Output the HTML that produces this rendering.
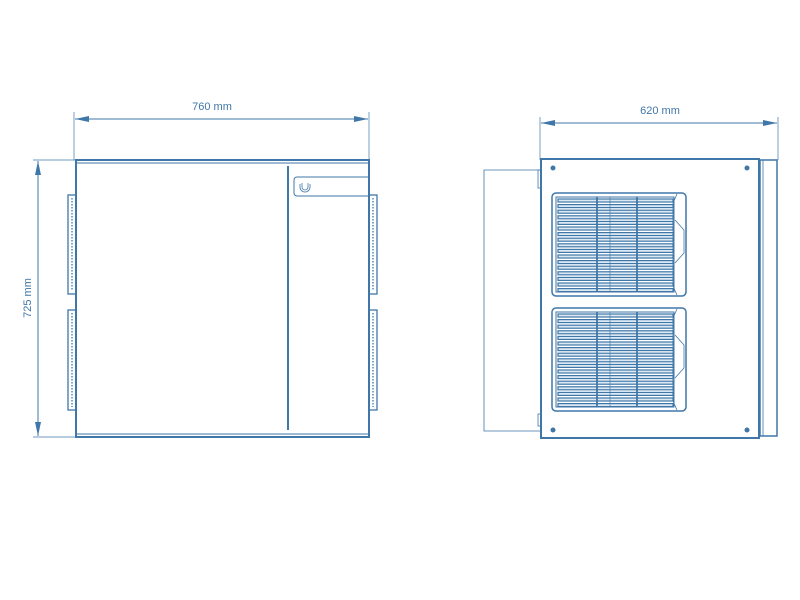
<!DOCTYPE html>
<html><head><meta charset="utf-8"><style>
html,body{margin:0;padding:0;background:#fff;width:800px;height:600px;overflow:hidden}
svg{display:block}
text{font-family:"Liberation Sans",sans-serif;font-size:11px;fill:#3f77a8}
</style></head><body>
<svg id="s" width="800" height="600" viewBox="0 0 800 600" xmlns="http://www.w3.org/2000/svg">
<defs><marker id="a" viewBox="0 0 14 6" refX="14" refY="3" markerWidth="14" markerHeight="6" markerUnits="userSpaceOnUse" orient="auto-start-reverse"><path d="M0,0L14,3L0,6z" fill="#3f77a8"/></marker></defs>
<g stroke="#3f77a8" fill="none">
<line x1="74" y1="112" x2="74" y2="160" stroke-width="0.7"/>
<line x1="369" y1="112" x2="369" y2="160" stroke-width="0.7"/>
<line x1="75" y1="119" x2="368" y2="119" stroke-width="1" marker-start="url(#a)" marker-end="url(#a)"/>
<line x1="33" y1="160" x2="76" y2="160" stroke-width="0.7"/>
<line x1="33" y1="437" x2="76" y2="437" stroke-width="0.7"/>
<line x1="38" y1="161" x2="38" y2="436" stroke-width="1" marker-start="url(#a)" marker-end="url(#a)"/>
<rect x="76" y="160" width="293" height="277" stroke-width="2"/>
<line x1="76" y1="163" x2="369" y2="163" stroke-width="1"/>
<line x1="76" y1="434" x2="369" y2="434" stroke-width="1"/>
<line x1="288" y1="166" x2="288" y2="430" stroke-width="2"/>
<path d="M369,177H297a3,3 0 0 0 -3,3V193a3,3 0 0 0 3,3H369" stroke-width="1"/>
<path d="M302,183v4a3,3 0 0 0 6,0v-4M300,184v3a5,5 0 0 0 10,0v-3" stroke-width="0.8"/>
<g stroke-width="1.3">
<rect x="68" y="195" width="8" height="99"/><line x1="72" y1="198" x2="72" y2="291" stroke-dasharray="1.5 1.5"/>
<rect x="68" y="310" width="8" height="100"/><line x1="72" y1="313" x2="72" y2="407" stroke-dasharray="1.5 1.5"/>
<rect x="369" y="195" width="8" height="99"/><line x1="373" y1="198" x2="373" y2="291" stroke-dasharray="1.5 1.5"/>
<rect x="369" y="310" width="8" height="100"/><line x1="373" y1="313" x2="373" y2="407" stroke-dasharray="1.5 1.5"/>
</g>
<line x1="540" y1="117" x2="540" y2="160" stroke-width="0.7"/>
<line x1="778" y1="117" x2="778" y2="160" stroke-width="0.7"/>
<line x1="541" y1="123" x2="777" y2="123" stroke-width="1" marker-start="url(#a)" marker-end="url(#a)"/>
<path d="M541,170H484V431H541" stroke-width="0.8"/>
<rect x="541" y="159" width="218" height="279" stroke-width="2"/>
<rect x="760" y="160" width="17" height="276" stroke-width="1.5"/>
<line x1="763" y1="160" x2="763" y2="436" stroke-width="0.8"/>
<rect x="538" y="170" width="3" height="18" stroke-width="0.8"/>
<rect x="538" y="414" width="3" height="12" stroke-width="0.8"/>
</g>
<g fill="#3f77a8">
<circle cx="553" cy="168" r="2.5"/><circle cx="747" cy="168" r="2.5"/>
<circle cx="553" cy="430" r="2.5"/><circle cx="747" cy="430" r="2.5"/>
</g>
<g id="grilles" stroke="#3f77a8" fill="none"></g>
<text x="212" y="110" text-anchor="middle">760 mm</text>
<text x="660" y="114" text-anchor="middle">620 mm</text>
<text x="0" y="0" text-anchor="middle" transform="translate(31,298) rotate(-90)">725 mm</text>
</svg>
<script>
var g=document.getElementById('grilles'),h='';
[193,308].forEach(function(y){
h+='<rect x="552" y="'+y+'" width="134" height="103" rx="4" stroke-width="1.5"/>';
h+='<path d="M677,'+(y+1)+'L673,'+(y+10)+'V'+(y+93)+'L677,'+(y+102)+'" stroke-width="0.8"/>';
h+='<path d="M675,'+(y+27)+'L684,'+(y+37)+'V'+(y+60)+'L675,'+(y+70)+'" stroke-width="0.8"/>';
h+='<rect x="556" y="'+(y+4)+'" width="118" height="95" stroke-width="1"/>';
for(var i=0;i<17;i++){var yy=y+6+i*5.6;h+='<rect x="558" y="'+yy.toFixed(1)+'" width="115" height="3" stroke-width="1.2" fill="#dce8f2"/>';}
[597,610,637].forEach(function(x){h+='<line x1="'+x+'" y1="'+(y+4)+'" x2="'+x+'" y2="'+(y+99)+'" stroke-width="'+(x==610?0.6:1.8)+'"/>';});
});
g.innerHTML=h;
</script>
</body></html>
